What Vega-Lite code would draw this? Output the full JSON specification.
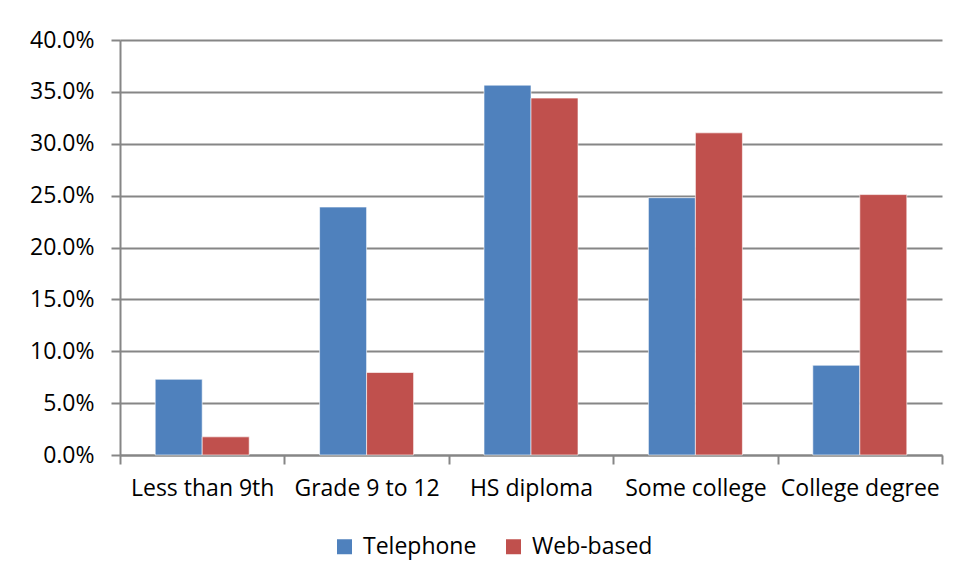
{
  "$schema": "https://vega.github.io/schema/vega-lite/v6.json",
  "autosize": {"type": "none"},
  "width": 822,
  "height": 415,
  "padding": {"left": 120, "top": 40, "right": 16, "bottom": 125},
  "background": "white",
  "data": {
    "values": [
      {"education": "Less than 9th", "survey": "Telephone", "share": 0.073},
      {"education": "Less than 9th", "survey": "Web-based", "share": 0.0175},
      {"education": "Grade 9 to 12", "survey": "Telephone", "share": 0.239},
      {"education": "Grade 9 to 12", "survey": "Web-based", "share": 0.0795},
      {"education": "HS diploma", "survey": "Telephone", "share": 0.3565},
      {"education": "HS diploma", "survey": "Web-based", "share": 0.344},
      {"education": "Some college", "survey": "Telephone", "share": 0.248},
      {"education": "Some college", "survey": "Web-based", "share": 0.3105},
      {"education": "College degree", "survey": "Telephone", "share": 0.0865},
      {"education": "College degree", "survey": "Web-based", "share": 0.251}
    ]
  },
  "mark": {"type": "bar", "stroke": "#ffffff", "strokeOpacity": 0.6, "strokeWidth": 1},
  "encoding": {
    "x": {
      "field": "education",
      "type": "nominal",
      "sort": null,
      "scale": {"paddingInner": 0, "paddingOuter": 0},
      "axis": {
        "title": null,
        "labelAngle": 0,
        "labelFont": "Open Sans",
        "labelFontSize": 23,
        "labelColor": "#000000",
        "labelPadding": 13,
        "tickBand": "extent",
        "tickSize": 9,
        "tickColor": "#868686",
        "tickWidth": 2,
        "domainColor": "#868686",
        "domainWidth": 2
      }
    },
    "xOffset": {"field": "survey", "type": "nominal", "scale": {"paddingInner": 0, "paddingOuter": 0.749}},
    "y": {
      "field": "share",
      "type": "quantitative",
      "scale": {"domain": [0, 0.4], "nice": false},
      "axis": {
        "title": null,
        "format": ".1%",
        "values": [0, 0.05, 0.1, 0.15, 0.2, 0.25, 0.3, 0.35, 0.4],
        "labelFont": "Open Sans",
        "labelFontSize": 23,
        "labelColor": "#000000",
        "labelPadding": 17,
        "tickSize": 9,
        "tickColor": "#868686",
        "tickWidth": 2,
        "domainColor": "#868686",
        "domainWidth": 2,
        "grid": true,
        "gridColor": "#868686",
        "gridWidth": 2
      }
    },
    "color": {
      "field": "survey",
      "type": "nominal",
      "scale": {"domain": ["Telephone", "Web-based"], "range": ["#4F81BD", "#C0504D"]},
      "legend": {
        "title": null,
        "orient": "none",
        "direction": "horizontal",
        "legendX": 213,
        "legendY": 495,
        "symbolType": "square",
        "symbolSize": 225,
        "symbolStrokeWidth": 0,
        "labelFont": "Open Sans",
        "labelFontSize": 23,
        "labelColor": "#000000",
        "labelOffset": 7,
        "columnPadding": 25
      }
    }
  },
  "config": {"view": {"stroke": null}}
}
